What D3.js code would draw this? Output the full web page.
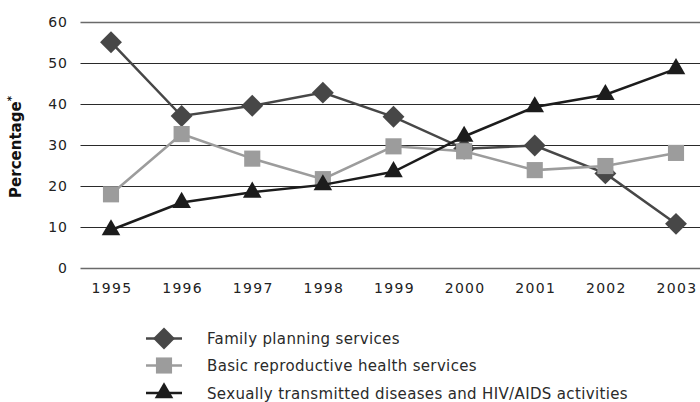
<!DOCTYPE html>
<html>
<head>
<meta charset="utf-8">
<script src="https://cdn.jsdelivr.net/npm/d3@7"></script>
<style>
  html, body { margin: 0; padding: 0; background: #fff; }
  svg { display: block; }
  text { font-family: "DejaVu Sans", sans-serif; fill: #222; }
</style>
</head>
<body>
<svg id="chart" width="700" height="402"></svg>
<script>
const years = ["1995","1996","1997","1998","1999","2000","2001","2002","2003"];
const yTicks = [0, 10, 20, 30, 40, 50, 60];
const familyPlanning = [55, 37, 39.5, 42.7, 36.8, 29, 29.8, 23, 10.7];
const basicReproductive = [17.9, 32.6, 26.6, 21.6, 29.6, 28.4, 23.8, 24.8, 28];
const stdHiv = [9.2, 15.9, 18.4, 20.2, 23.4, 32, 39.2, 42.2, 48.5];
const seriesNames = ["Family planning services", "Basic reproductive health services", "Sexually transmitted diseases and HIV/AIDS activities"];

const svg = d3.select("#chart");
const x = d3.scalePoint().domain(years).range([111, 676]);
const y = d3.scaleLinear().domain([0, 60]).range([267.7, 21.7]);

// gridlines
svg.append("g").selectAll("line").data(yTicks).join("line")
  .attr("x1", 80.5).attr("x2", 700)
  .attr("y1", d => Math.round(y(d)) + 0.5).attr("y2", d => Math.round(y(d)) + 0.5)
  .attr("stroke", d => (d === 0 || d === 60) ? "#6a6a6a" : "#2a2a2a")
  .attr("stroke-width", d => (d === 0 || d === 60) ? 1.4 : 1.1);

// y tick labels
svg.append("g").selectAll("text").data(yTicks).join("text")
  .attr("x", 68).attr("y", d => y(d) + 5)
  .attr("text-anchor", "end")
  .style("font-size", "14px").style("letter-spacing", "1px")
  .text(d => d);

// x tick labels
svg.append("g").selectAll("text").data(years).join("text")
  .attr("x", d => x(d) + 1).attr("y", 293)
  .attr("text-anchor", "middle")
  .style("font-size", "14px").style("letter-spacing", "1.3px")
  .text(d => d);

// y title
const yt = svg.append("text")
  .attr("transform", "translate(21,147) rotate(-90)")
  .attr("text-anchor", "middle")
  .style("font-size", "15px").style("font-weight", "bold").style("fill", "#111");
yt.append("tspan").text("Percentage");
yt.append("tspan").attr("dy", -6).style("font-size", "10px").text("*");

const series = [
  { name: seriesNames[0], values: familyPlanning, color: "#474747", sym: d3.symbolSquare, size: 240, rot: 45 },
  { name: seriesNames[1], values: basicReproductive, color: "#9c9c9c", sym: d3.symbolSquare, size: 260, rot: 0 },
  { name: seriesNames[2], values: stdHiv, color: "#1c1c1c", sym: d3.symbolTriangle, size: 150, rot: 0 }
];

const line = d3.line().x((d, i) => x(years[i])).y(d => y(d));

series.forEach(s => {
  const g = svg.append("g");
  g.append("path").attr("d", line(s.values))
    .attr("fill", "none").attr("stroke", s.color).attr("stroke-width", 2.5);
  g.selectAll("path.m").data(s.values).join("path").attr("class", "m")
    .attr("d", d3.symbol().type(s.sym).size(s.size))
    .attr("transform", (d, i) => `translate(${x(years[i])},${y(d)}) rotate(${s.rot})`)
    .attr("fill", s.color);
});

// legend
const legendY = [338.5, 365.5, 393];
series.forEach((s, i) => {
  const g = svg.append("g").attr("transform", `translate(164,${legendY[i]})`);
  g.append("line").attr("x1", -18).attr("x2", 18).attr("y1", 0).attr("y2", 0)
    .attr("stroke", s.color).attr("stroke-width", 2.5);
  g.append("path").attr("d", d3.symbol().type(s.sym).size(s.size))
    .attr("transform", `rotate(${s.rot})`).attr("fill", s.color);
  svg.append("text").attr("x", 207).attr("y", legendY[i] + 5.5)
    .style("font-size", "15px").style("letter-spacing", "0.35px").style("fill", "#2a2a2a")
    .text(s.name);
});
</script>
</body>
</html>
